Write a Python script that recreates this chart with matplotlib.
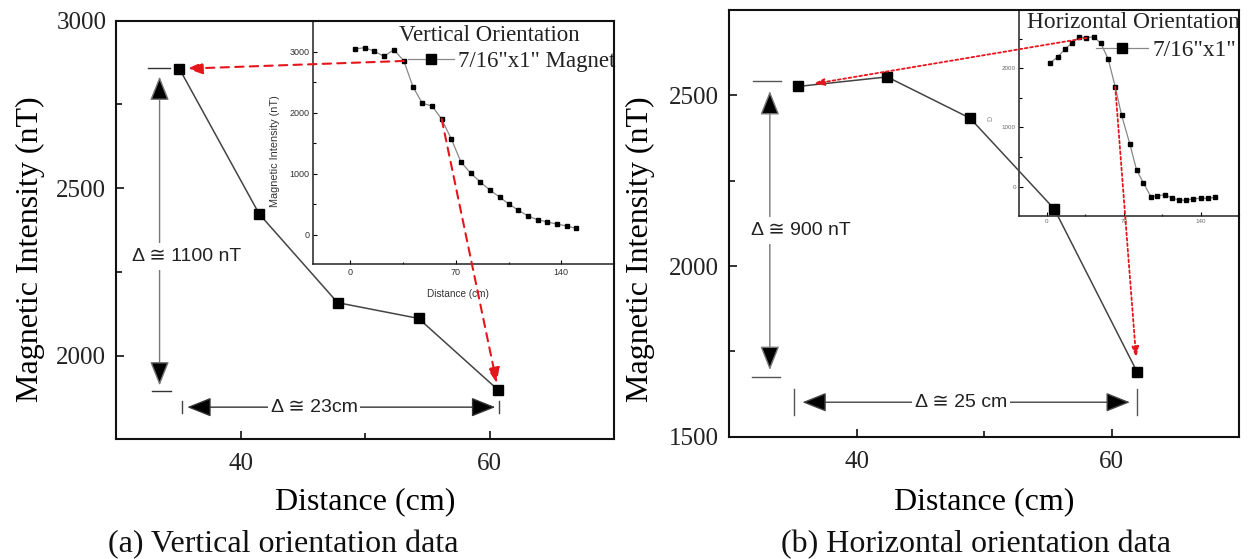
import matplotlib
matplotlib.use('Agg')
import matplotlib.pyplot as plt
from matplotlib.ticker import MultipleLocator

# ---------------- data ----------------
a_dist = [35.1, 41.5, 47.8, 54.3, 60.7]
a_int = [2856, 2423, 2158, 2111, 1897]
b_dist = [35.4, 42.4, 48.9, 55.5, 62.0]
b_int = [2526, 2554, 2433, 2167, 1689]

a_in_dist = [2.9, 9.5, 15.7, 22.3, 28.9, 35.5, 41.7, 47.8, 54.2, 60.6, 67.0, 73.4,
             79.8, 86.2, 92.6, 99.0, 105.2, 111.6, 118.0, 124.3, 130.7, 137.1, 143.5, 149.9]
a_in_int = [3044, 3066, 3011, 2924, 3033, 2848, 2416, 2154, 2110, 1897, 1569, 1192,
            1011, 864, 733, 618, 503, 399, 306, 246, 208, 175, 143, 104]
b_in_dist = [3.3, 10.2, 16.6, 23.2, 29.6, 35.9, 42.6, 49.2, 55.8, 62.2, 68.0, 75.5,
             81.6, 87.9, 94.6, 100.6, 107.0, 113.6, 120.2, 126.5, 133.2, 139.8, 146.5, 152.8]
b_in_int = [2095, 2196, 2326, 2432, 2534, 2512, 2534, 2422, 2157, 1689, 1206, 721,
            282, 62, -169, -158, -135, -191, -225, -231, -203, -197, -197, -180]

legend_label = {'a': '7/16"x1" Magnet', 'b': '7/16"x1"'}
inset_titles = {'a': 'Vertical Orientation', 'b': 'Horizontal Orientation'}
captions = {'a': '(a) Vertical orientation data', 'b': '(b) Horizontal orientation data'}
delta_text = {'a': ('Δ ≅ 1100 nT', 'Δ ≅ 23cm'), 'b': ('Δ ≅ 900 nT', 'Δ ≅ 25 cm')}

SERIF = ['Liberation Serif', 'DejaVu Serif']
SANS = ['Liberation Sans', 'DejaVu Sans']

W, H = 1248, 559
fig = plt.figure(figsize=(W / 100, H / 100), dpi=100)
fig.patch.set_facecolor('white')


def px_axes(l, t, r, b):
    return [l / W, 1 - b / H, (r - l) / W, (b - t) / H]


def style_main(ax, ylim):
    ax.set_xlim(30, 70)
    ax.set_ylim(*ylim)
    ax.xaxis.set_major_locator(MultipleLocator(20))
    ax.xaxis.set_minor_locator(MultipleLocator(10))
    ax.yaxis.set_major_locator(MultipleLocator(500))
    ax.yaxis.set_minor_locator(MultipleLocator(250))
    ax.tick_params(which='both', direction='in', top=False, right=False,
                   labelsize=18, width=1.3, colors='#222')
    ax.tick_params(which='major', length=6)
    ax.tick_params(axis='y', which='major', pad=7)
    ax.tick_params(axis='x', which='major', pad=10)
    ax.tick_params(which='minor', length=4)
    for lab in ax.get_xticklabels() + ax.get_yticklabels():
        lab.set_family(SERIF)
    for s in ax.spines.values():
        s.set_linewidth(1.5)
        s.set_color('#111')
    ax.set_xlabel('Distance (cm)', family=SERIF, fontsize=23)
    ax.set_ylabel('Magnetic Intensity (nT)', family=SERIF, fontsize=23)
    ax.patch.set_visible(False)
    ax.set_zorder(3)


def style_inset(ax, ylim, lsize, lcolor):
    ax.set_xlim(-25, 175)
    ax.set_ylim(*ylim)
    ax.xaxis.set_major_locator(MultipleLocator(70))
    ax.xaxis.set_minor_locator(MultipleLocator(35))
    ax.yaxis.set_major_locator(MultipleLocator(1000))
    ax.yaxis.set_minor_locator(MultipleLocator(500))
    ax.tick_params(which='both', direction='in', top=False, right=False,
                   labelsize=lsize, labelcolor=lcolor, width=0.8, pad=2.5)
    ax.tick_params(which='major', length=3)
    ax.tick_params(which='minor', length=1.8)
    for lab in ax.get_xticklabels() + ax.get_yticklabels():
        lab.set_family(SANS)
    for s in ax.spines.values():
        s.set_linewidth(1.1)
        s.set_color('#222')
    ax.set_zorder(1)


def dim_arrow(ax, p0, p1, color, sA, sB):
    ax.annotate('', xy=p1, xytext=p0, annotation_clip=False,
                arrowprops=dict(arrowstyle='<|-|>,head_length=0.75,head_width=0.3',
                                mutation_scale=20, fc='black', ec=color, lw=1.0,
                                shrinkA=sA, shrinkB=sB), zorder=5)


# ================= panel (a) =================
axa = fig.add_axes(px_axes(116, 20.7, 614, 439.3))
axa_in = fig.add_axes(px_axes(312.7, 20.7, 614, 264.3))
style_main(axa, (1750, 3000))
style_inset(axa_in, (-485, 3508), 6.5, '#333')
axa.xaxis.set_label_coords(0.5, -0.114)
axa.yaxis.set_label_coords(-0.1426, 0.455)

axa.plot(a_dist, a_int, color='#444', lw=1.1, marker='s', ms=6.5,
         mfc='black', mec='black', zorder=4)
ln_a, = axa_in.plot(a_in_dist, a_in_int, color='#888', lw=0.9, marker='s', ms=3.0,
                    mfc='black', mec='black', label=legend_label['a'])
axa_in.set_xlabel('Distance (cm)', family=SANS, fontsize=7.2, color='#333')
axa_in.set_ylabel('Magnetic Intensity (nT)', family=SANS, fontsize=7.8, color='#333')
axa_in.xaxis.set_label_coords(0.482, -0.10)
axa_in.yaxis.set_label_coords(-0.1085, 0.465)
axa_in.text(0.286, 0.918, inset_titles['a'], transform=axa_in.transAxes,
            family=SERIF, fontsize=16.5, ha='left', va='baseline', color='#222')
axa_in.legend(handles=[ln_a], loc='center right', bbox_to_anchor=(1.005, 0.832),
              frameon=False, borderpad=0, borderaxespad=0, handlelength=2.0,
              handletextpad=0.2, markerscale=2.4,
              prop={'family': SERIF, 'size': 16.5}, labelcolor='#222')

# dimension annotations (a)
top_a, bot_a = 2858, 1893
xa_v = 33.5
axa.plot([32.55, 34.3], [top_a, top_a], color='#333', lw=1.0)
axa.plot([32.9, 34.4], [bot_a, bot_a], color='#333', lw=1.0)
dim_arrow(axa, (xa_v, top_a), (xa_v, bot_a), '#777', 6, 4.3)
axa.text(35.65, 2296, delta_text['a'][0], family=SANS, fontsize=14, ha='center',
         va='center', color='#222', zorder=6,
         bbox=dict(boxstyle='square,pad=0.25', fc='white', ec='none'))
ya_h = 1846
axa.plot([a_dist[0] + 0.2, a_dist[0] + 0.2], [ya_h - 18, ya_h + 18], color='#444', lw=1.0)
axa.plot([a_dist[-1] + 0.1, a_dist[-1] + 0.1], [ya_h - 18, ya_h + 18], color='#444', lw=1.0)
dim_arrow(axa, (a_dist[0] + 0.2, ya_h), (a_dist[-1] + 0.1, ya_h), '#333', 3.8, 3.0)
axa.text(45.9, ya_h, delta_text['a'][1], family=SANS, fontsize=14, ha='center',
         va='center', color='#222', zorder=6,
         bbox=dict(boxstyle='square,pad=0.15', fc='white', ec='none'))

# red arrows (a)
red_a = dict(arrowstyle='-|>,head_length=0.46,head_width=0.18', mutation_scale=20,
             color='#e5151c', lw=1.5, linestyle=(0, (4, 3)), shrinkA=0, shrinkB=5.5)
axa.annotate('', xy=(a_dist[0], a_int[0]), xytext=(a_in_dist[5], a_in_int[5]),
             textcoords=axa_in.transData, arrowprops=red_a, annotation_clip=False, zorder=7)
axa.annotate('', xy=(a_dist[-1], a_int[-1]), xytext=(a_in_dist[9], a_in_int[9]),
             textcoords=axa_in.transData, arrowprops=dict(red_a, shrinkB=5),
             annotation_clip=False, zorder=7)

# ================= panel (b) =================
axb = fig.add_axes(px_axes(729, 10, 1239.3, 436.7))
axb_in = fig.add_axes(px_axes(1019.3, 10, 1239.3, 215.5))
style_main(axb, (1500, 2750))
style_inset(axb_in, (-487, 2985), 4.5, '#666')
axb.xaxis.set_label_coords(0.5, -0.118)
axb.yaxis.set_label_coords(-0.145, 0.44)

axb.plot(b_dist, b_int, color='#444', lw=1.1, marker='s', ms=6.8,
         mfc='black', mec='black', zorder=4)
ln_b, = axb_in.plot(b_in_dist, b_in_int, color='#888', lw=0.9, marker='s', ms=2.5,
                    mfc='black', mec='black', label=legend_label['b'])
axb_in.set_ylabel('D', family=SANS, fontsize=5, color='#888')
axb_in.yaxis.set_label_coords(-0.115, 0.473)
axb_in.text(0.034, 0.911, inset_titles['b'], transform=axb_in.transAxes,
            family=SERIF, fontsize=16.8, ha='left', va='baseline', color='#222')
axb_in.legend(handles=[ln_b], loc='center right', bbox_to_anchor=(0.985, 0.805),
              frameon=False, borderpad=0, borderaxespad=0, handlelength=2.2,
              handletextpad=0.2, markerscale=3.0,
              prop={'family': SERIF, 'size': 16.8}, labelcolor='#222')

# dimension annotations (b)
top_b, bot_b = 2541, 1675
xb_v = 33.2
axb.plot([31.9, 34.1], [top_b, top_b], color='#555', lw=1.0)
axb.plot([31.8, 34.0], [bot_b, bot_b], color='#555', lw=1.0)
dim_arrow(axb, (xb_v, top_b), (xb_v, bot_b), '#777', 7, 5)
axb.text(35.6, 2105, delta_text['b'][0], family=SANS, fontsize=14, ha='center',
         va='center', color='#222', zorder=6,
         bbox=dict(boxstyle='square,pad=0.25', fc='white', ec='none'))
yb_h = 1601
axb.plot([b_dist[0] - 0.3, b_dist[0] - 0.3], [yb_h - 38, yb_h + 38], color='#555', lw=1.0)
axb.plot([b_dist[-1], b_dist[-1]], [yb_h - 38, yb_h + 38], color='#555', lw=1.0)
dim_arrow(axb, (b_dist[0] - 0.3, yb_h), (b_dist[-1], yb_h), '#444', 6, 5.3)
axb.text(48.2, yb_h, delta_text['b'][1], family=SANS, fontsize=14, ha='center',
         va='center', color='#222', zorder=6,
         bbox=dict(boxstyle='square,pad=0.15', fc='white', ec='none'))

# red arrows (b)
red_b = dict(arrowstyle='-|>,head_length=0.65,head_width=0.2', mutation_scale=10,
             color='#e5151c', lw=1.3, linestyle=(0, (1.5, 1.5)), shrinkA=0, shrinkB=11)
axb.annotate('', xy=(b_dist[0], b_int[0]), xytext=(b_in_dist[5], b_in_int[5]),
             textcoords=axb_in.transData, arrowprops=red_b, annotation_clip=False, zorder=7)
axb.annotate('', xy=(b_dist[-1], b_int[-1]), xytext=(b_in_dist[9], b_in_int[9]),
             textcoords=axb_in.transData, arrowprops=dict(red_b, shrinkB=10),
             annotation_clip=False, zorder=7)

# captions
fig.text(283 / W, 1 - 545 / H, captions['a'], family=SERIF, fontsize=23,
         ha='center', va='center', color='#111')
fig.text(976 / W, 1 - 545 / H, captions['b'], family=SERIF, fontsize=23,
         ha='center', va='center', color='#111')

fig.savefig('out.png', dpi=100, facecolor='white')
